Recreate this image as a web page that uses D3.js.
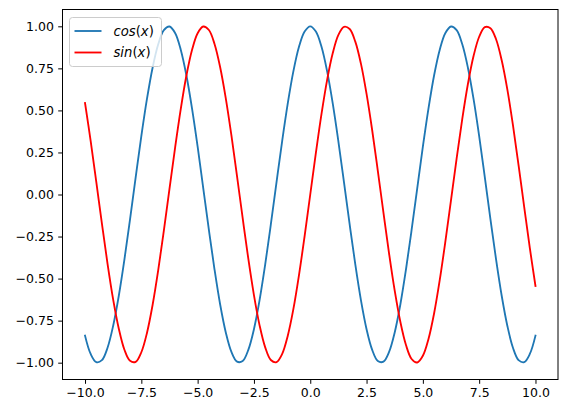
<!DOCTYPE html>
<meta charset="utf-8">
<style>
  html, body { margin:0; padding:0; overflow:hidden; background:#fff }
  text { font-family: "DejaVu Sans", sans-serif; }
</style>
<svg id="mainsvg" width="568" height="413"></svg>
<script src="https://cdn.jsdelivr.net/npm/d3@7"></script>
<script>

var xs = [-10, -9.75, -9.5, -9.25, -9, -8.75, -8.5, -8.25, -8, -7.75, -7.5, -7.25, -7, -6.75, -6.5, -6.25,
          -6, -5.75, -5.5, -5.25, -5, -4.75, -4.5, -4.25, -4, -3.75, -3.5, -3.25, -3, -2.75, -2.5, -2.25,
          -2, -1.75, -1.5, -1.25, -1, -0.75, -0.5, -0.25, 0, 0.25, 0.5, 0.75, 1, 1.25, 1.5, 1.75,
          2, 2.25, 2.5, 2.75, 3, 3.25, 3.5, 3.75, 4, 4.25, 4.5, 4.75, 5, 5.25, 5.5, 5.75,
          6, 6.25, 6.5, 6.75, 7, 7.25, 7.5, 7.75, 8, 8.25, 8.5, 8.75, 9, 9.25, 9.5, 9.75, 10];

var cosVals = [-0.839, -0.948, -0.997, -0.985, -0.911, -0.780, -0.602, -0.386, -0.146, 0.103, 0.347, 0.568, 0.754, 0.893, 0.977, 0.999,
               0.960, 0.861, 0.709, 0.512, 0.284, 0.037, -0.211, -0.446, -0.654, -0.820, -0.936, -0.994, -0.990, -0.924, -0.801, -0.628,
               -0.416, -0.178, 0.071, 0.315, 0.540, 0.732, 0.878, 0.969, 1.000, 0.969, 0.878, 0.732, 0.540, 0.315, 0.071, -0.178,
               -0.416, -0.628, -0.801, -0.924, -0.990, -0.994, -0.936, -0.820, -0.654, -0.446, -0.211, 0.037, 0.284, 0.512, 0.709, 0.861,
               0.960, 0.999, 0.977, 0.893, 0.754, 0.568, 0.347, 0.103, -0.146, -0.386, -0.602, -0.780, -0.911, -0.985, -0.997, -0.948, -0.839];

var sinVals = [0.544, 0.319, 0.075, -0.173, -0.412, -0.625, -0.798, -0.923, -0.989, -0.995, -0.938, -0.823, -0.657, -0.450, -0.215, 0.033,
               0.279, 0.508, 0.706, 0.859, 0.959, 0.999, 0.978, 0.895, 0.757, 0.572, 0.351, 0.108, -0.141, -0.382, -0.598, -0.778,
               -0.909, -0.984, -0.997, -0.949, -0.841, -0.682, -0.479, -0.247, 0.000, 0.247, 0.479, 0.682, 0.841, 0.949, 0.997, 0.984,
               0.909, 0.778, 0.598, 0.382, 0.141, -0.108, -0.351, -0.572, -0.757, -0.895, -0.978, -0.999, -0.959, -0.859, -0.706, -0.508,
               -0.279, -0.033, 0.215, 0.450, 0.657, 0.823, 0.938, 0.995, 0.989, 0.923, 0.798, 0.625, 0.412, 0.173, -0.075, -0.319, -0.544];

var xTicks = [-10, -7.5, -5, -2.5, 0, 2.5, 5, 7.5, 10];
var yTicks = [-1, -0.75, -0.5, -0.25, 0, 0.25, 0.5, 0.75, 1];

var seriesNames = ["cos", "sin"];
var seriesColors = ["#1f77b4", "red"];

var svg = d3.select("#mainsvg");

var pLeft = 62.5, pRight = 558, pTop = 9.5, pBottom = 379.5;

var x = d3.scaleLinear().domain([-11, 11]).range([pLeft, pRight]);
var y = d3.scaleLinear().domain([-1.1, 1.1]).range([pBottom, pTop]);

var fmt = function(d) { return d3.format(".1f")(d).replace("-", "\u2212"); };
var fmtY = function(d) { return d3.format(".2f")(d).replace("-", "\u2212"); };

var line = d3.line()
    .x(function(d) { return x(d[0]); })
    .y(function(d) { return y(d[1]); })
    .curve(d3.curveCatmullRom.alpha(0.5));

svg.append("defs").append("clipPath").attr("id", "clip")
    .append("rect").attr("x", pLeft).attr("y", pTop).attr("width", pRight - pLeft).attr("height", pBottom - pTop);

var plot = svg.append("g").attr("clip-path", "url(#clip)");

[cosVals, sinVals].forEach(function(vals, i) {
    plot.append("path")
        .datum(xs.map(function(v, j) { return [v, vals[j]]; }))
        .attr("d", line)
        .attr("fill", "none")
        .attr("stroke", seriesColors[i])
        .attr("stroke-width", 1.85)
        .attr("stroke-linejoin", "round")
        .attr("stroke-linecap", "square");
});

// axes
var xAxis = svg.append("g").attr("transform", "translate(0," + pBottom + ")")
    .call(d3.axisBottom(x).tickValues(xTicks).tickFormat(fmt).tickSize(4.3).tickPadding(4.3));
var yAxis = svg.append("g").attr("transform", "translate(" + pLeft + ",0)")
    .call(d3.axisLeft(y).tickValues(yTicks).tickFormat(fmtY).tickSize(4.3).tickPadding(4.3));

[xAxis, yAxis].forEach(function(a) {
    a.select(".domain").remove();
    a.selectAll(".tick line").attr("stroke", "#000").attr("stroke-width", 1);
    a.selectAll(".tick text").attr("fill", "#000").style("font-size", "12.5px")
        .style("font-family", "'DejaVu Sans', sans-serif");
});

svg.append("rect")
    .attr("x", pLeft).attr("y", pTop)
    .attr("width", pRight - pLeft).attr("height", pBottom - pTop)
    .attr("fill", "none").attr("stroke", "#000").attr("stroke-width", 1);

// legend
var legend = svg.append("g").attr("transform", "translate(69.5,17.5)");
legend.append("rect")
    .attr("width", 92).attr("height", 49).attr("rx", 3)
    .attr("fill", "#fff").attr("fill-opacity", 0.8)
    .attr("stroke", "#ccc").attr("stroke-width", 1);

seriesNames.forEach(function(name, i) {
    var g = legend.append("g").attr("transform", "translate(0," + (13.5 + i * 21.5) + ")");
    g.append("line").attr("x1", 5).attr("x2", 32)
        .attr("stroke", seriesColors[i]).attr("stroke-width", 1.85);
    var t = g.append("text").attr("x", 44).attr("y", 4.5)
        .style("font-size", "13.2px").attr("fill", "#000");
    t.append("tspan").style("font-style", "italic").text(name);
    t.append("tspan").text("(");
    t.append("tspan").style("font-style", "italic").text("x");
    t.append("tspan").text(")");
});

</script>
